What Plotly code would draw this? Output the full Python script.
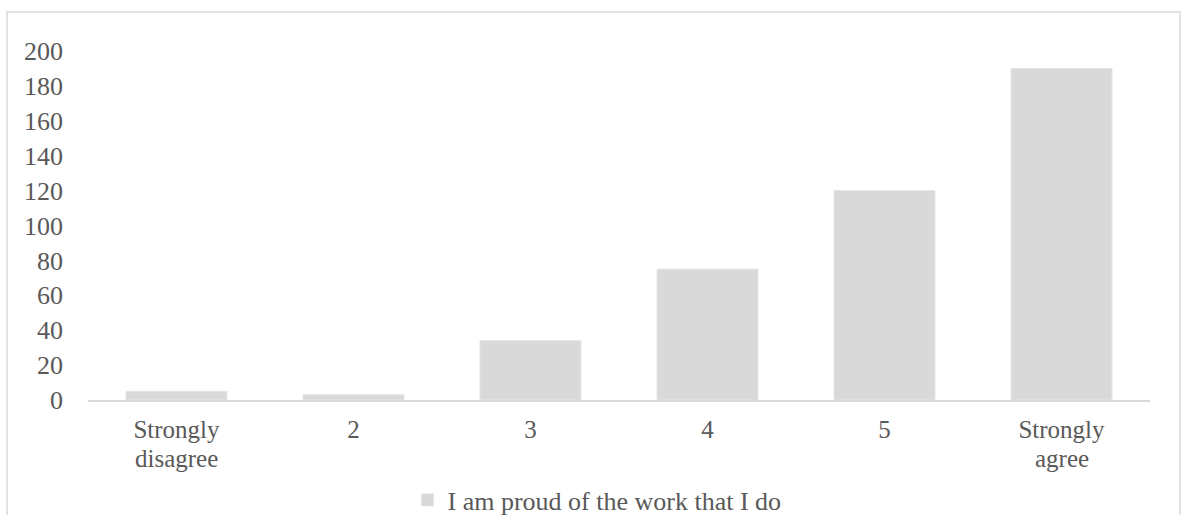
import plotly.graph_objects as go

categories = ["Strongly disagree", "2", "3", "4", "5", "Strongly agree"]
tick_first_lines = ["Strongly", "2", "3", "4", "5", "Strongly"]
tick_second_lines = ["disagree", "", "", "", "", "agree"]
counts = [5, 3, 34, 75, 120, 190]
series_name = "I am proud of the work that I do"
y_ticks = [0, 20, 40, 60, 80, 100, 120, 140, 160, 180, 200]

W, H = 1182, 515
L, R, T, B = 88, 32, 51, 115
plot_w = W - L - R
plot_h = H - T - B

def px_x(x):
    return (x - L) / plot_w

def px_y(y):
    return (H - B - y) / plot_h

family = "Liberation Serif, Times New Roman, serif"
font = dict(family=family, size=26, color="#595959")
cat_font = dict(family=family, size=25, color="#595959")

fig = go.Figure()
fig.add_trace(go.Bar(
    x=categories,
    y=counts,
    name=series_name,
    marker=dict(color="#d9d9d9", line=dict(color="#e4e4e4", width=1)),
    showlegend=True,
))

# second line of the two-word category labels, set tighter than <br> would
annotations = [
    dict(
        x=cat, y=px_y(459), xref="x", yref="paper",
        text=second, showarrow=False, font=cat_font,
        xanchor="center", yanchor="middle",
    )
    for cat, second in zip(categories, tick_second_lines) if second
]

fig.update_layout(
    width=W,
    height=H,
    margin=dict(l=L, r=R, t=T, b=B, pad=0),
    paper_bgcolor="white",
    plot_bgcolor="white",
    font=font,
    bargap=0.43,
    showlegend=True,
    legend=dict(
        orientation="h",
        xref="container",
        yref="container",
        x=597 / W,
        xanchor="center",
        y=1 - 500 / H,
        yanchor="middle",
        font=font,
        bgcolor="rgba(0,0,0,0)",
    ),
    annotations=annotations,
    shapes=[
        dict(
            type="rect",
            xref="paper", yref="paper",
            x0=px_x(7), x1=px_x(1180),
            y0=px_y(530), y1=px_y(12),
            line=dict(color="#d9d9d9", width=1.5),
            fillcolor="rgba(0,0,0,0)",
            layer="below",
        )
    ],
)

fig.update_xaxes(
    tickvals=categories,
    ticktext=tick_first_lines,
    showline=True,
    linecolor="#d9d9d9",
    linewidth=1.5,
    showgrid=False,
    ticks="",
    tickfont=cat_font,
    ticklabelstandoff=6,
    automargin=False,
)
fig.update_yaxes(
    range=[0, 200],
    tickvals=y_ticks,
    showgrid=False,
    showline=False,
    zeroline=False,
    ticks="",
    tickfont=font,
    ticklabelstandoff=24,
    automargin=False,
)

fig.write_html("out.html")
